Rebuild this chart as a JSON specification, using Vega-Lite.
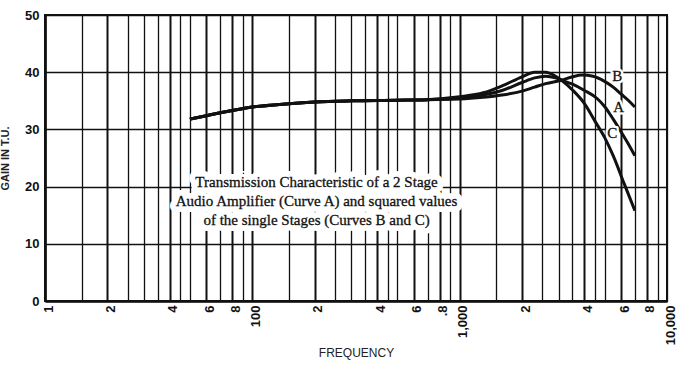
{
  "$schema": "https://vega.github.io/schema/vega-lite/v6.json",
  "width": 622,
  "height": 286,
  "autosize": "none",
  "padding": {"left": 45, "top": 15, "right": 10, "bottom": 65},
  "background": "white",
  "config": {"view": {"stroke": "#111", "strokeWidth": 2}, "font": "Liberation Sans"},
  "datasets": {
    "curves": [
      {"curve": "A", "freq": 50, "gain": 31.8}, {"curve": "A", "freq": 60, "gain": 32.4}, {"curve": "A", "freq": 70, "gain": 32.9}, {"curve": "A", "freq": 80, "gain": 33.3}, {"curve": "A", "freq": 100, "gain": 33.9}, {"curve": "A", "freq": 150, "gain": 34.5}, {"curve": "A", "freq": 200, "gain": 34.8}, {"curve": "A", "freq": 300, "gain": 35.0}, {"curve": "A", "freq": 500, "gain": 35.1}, {"curve": "A", "freq": 700, "gain": 35.2},
      {"curve": "A", "freq": 1000, "gain": 35.5}, {"curve": "A", "freq": 1300, "gain": 36.0}, {"curve": "A", "freq": 1600, "gain": 36.8}, {"curve": "A", "freq": 2000, "gain": 38.2}, {"curve": "A", "freq": 2300, "gain": 39.0}, {"curve": "A", "freq": 2600, "gain": 39.3}, {"curve": "A", "freq": 2900, "gain": 39.0}, {"curve": "A", "freq": 3100, "gain": 38.6}, {"curve": "A", "freq": 3500, "gain": 37.9}, {"curve": "A", "freq": 4000, "gain": 36.8}, {"curve": "A", "freq": 4600, "gain": 35.4}, {"curve": "A", "freq": 5000, "gain": 34.0}, {"curve": "A", "freq": 5500, "gain": 31.8}, {"curve": "A", "freq": 6000, "gain": 29.6}, {"curve": "A", "freq": 6500, "gain": 27.5}, {"curve": "A", "freq": 7000, "gain": 25.4},
      {"curve": "B", "freq": 50, "gain": 31.8}, {"curve": "B", "freq": 60, "gain": 32.4}, {"curve": "B", "freq": 70, "gain": 32.9}, {"curve": "B", "freq": 80, "gain": 33.3}, {"curve": "B", "freq": 100, "gain": 33.9}, {"curve": "B", "freq": 150, "gain": 34.5}, {"curve": "B", "freq": 200, "gain": 34.8}, {"curve": "B", "freq": 300, "gain": 35.0}, {"curve": "B", "freq": 500, "gain": 35.1}, {"curve": "B", "freq": 700, "gain": 35.2},
      {"curve": "B", "freq": 1000, "gain": 35.3}, {"curve": "B", "freq": 1300, "gain": 35.6}, {"curve": "B", "freq": 1600, "gain": 36.0}, {"curve": "B", "freq": 2000, "gain": 36.7}, {"curve": "B", "freq": 2300, "gain": 37.4}, {"curve": "B", "freq": 2600, "gain": 38.0}, {"curve": "B", "freq": 3100, "gain": 38.6}, {"curve": "B", "freq": 3500, "gain": 39.2}, {"curve": "B", "freq": 3900, "gain": 39.5}, {"curve": "B", "freq": 4400, "gain": 39.3}, {"curve": "B", "freq": 5000, "gain": 38.4}, {"curve": "B", "freq": 5500, "gain": 37.4}, {"curve": "B", "freq": 6000, "gain": 36.2}, {"curve": "B", "freq": 6500, "gain": 35.1}, {"curve": "B", "freq": 7000, "gain": 33.9},
      {"curve": "C", "freq": 50, "gain": 31.8}, {"curve": "C", "freq": 60, "gain": 32.4}, {"curve": "C", "freq": 70, "gain": 32.9}, {"curve": "C", "freq": 80, "gain": 33.3}, {"curve": "C", "freq": 100, "gain": 33.9}, {"curve": "C", "freq": 150, "gain": 34.5}, {"curve": "C", "freq": 200, "gain": 34.8}, {"curve": "C", "freq": 300, "gain": 35.0}, {"curve": "C", "freq": 500, "gain": 35.1}, {"curve": "C", "freq": 700, "gain": 35.2},
      {"curve": "C", "freq": 1000, "gain": 35.7}, {"curve": "C", "freq": 1300, "gain": 36.4}, {"curve": "C", "freq": 1600, "gain": 37.6}, {"curve": "C", "freq": 2000, "gain": 39.2}, {"curve": "C", "freq": 2300, "gain": 40.0}, {"curve": "C", "freq": 2600, "gain": 40.0}, {"curve": "C", "freq": 2900, "gain": 39.3}, {"curve": "C", "freq": 3100, "gain": 38.6}, {"curve": "C", "freq": 3500, "gain": 36.9}, {"curve": "C", "freq": 4000, "gain": 34.5}, {"curve": "C", "freq": 4500, "gain": 31.4}, {"curve": "C", "freq": 5000, "gain": 28.6}, {"curve": "C", "freq": 5500, "gain": 25.4}, {"curve": "C", "freq": 6200, "gain": 20.6}, {"curve": "C", "freq": 7000, "gain": 15.8}
    ],
    "notes": [
      {"freq": 204, "gain": 20.8, "text": "Transmission Characteristic of a 2 Stage\nAudio Amplifier (Curve A)  and squared values\nof the single  Stages (Curves B and C)"}
    ],
    "labels": [
      {"freq": 5750, "gain": 39.4, "text": "B"},
      {"freq": 5850, "gain": 34.0, "text": "A"},
      {"freq": 5450, "gain": 29.4, "text": "C"}
    ]
  },
  "layer": [
    {
      "data": {"name": "curves"},
      "mark": {"type": "line", "color": "#111", "strokeWidth": 3, "interpolate": "monotone"},
      "encoding": {
        "x": {
          "field": "freq", "type": "quantitative",
          "scale": {"type": "log", "domain": [10, 10000], "nice": false},
          "axis": {
            "values": [10,15,20,25,30,35,40,45,50,60,70,80,90,100,150,200,250,300,350,400,450,500,600,700,800,900,1000,1500,2000,2500,3000,3500,4000,4500,5000,6000,7000,8000,9000,10000],
            "labelExpr": "datum.value==10?'1':datum.value==100?'100':datum.value==800?'.8':datum.value==1000?'1,000':datum.value==10000?'10,000':indexof([20,40,60,80],datum.value)>=0?format(datum.value/10,'d'):indexof([200,400,600],datum.value)>=0?format(datum.value/100,'d'):indexof([2000,4000,6000,8000],datum.value)>=0?format(datum.value/1000,'d'):''",
            "labelAngle": 270,
            "labelOverlap": false,
            "labelFlush": false,
            "labelBound": false,
            "labelPadding": 4,
            "labelOffset": 3,
            "labelFontSize": 13,
            "labelFontWeight": "bold",
            "labelColor": "#111",
            "ticks": false,
            "domainColor": "#111",
            "domainWidth": 2.5,
            "grid": true,
            "gridColor": "#111",
            "gridOpacity": 1,
            "gridWidth": {"condition": {"test": "indexof([10,20,40,60,80,100,200,400,600,800,1000,2000,4000,6000,8000],datum.value)>=0", "value": 2}, "value": 1.3},
            "title": "FREQUENCY",
            "titleFontSize": 12,
            "titleFontWeight": "normal",
            "titleColor": "#222",
            "titleY": 46,
            "titleBaseline": "top"
          }
        },
        "y": {
          "field": "gain", "type": "quantitative",
          "scale": {"domain": [0, 50], "nice": false},
          "axis": {
            "values": [0,5,10,15,20,25,30,35,40,45,50],
            "labelExpr": "datum.value % 10 == 0 ? datum.label : ''",
            "labelFontSize": 13,
            "labelFontWeight": "bold",
            "labelColor": "#111",
            "labelPadding": 6,
            "ticks": false,
            "domainColor": "#111",
            "domainWidth": 2.5,
            "grid": true,
            "gridColor": "#111",
            "gridOpacity": 1,
            "gridWidth": 1.6,
            "title": "GAIN IN T.U.",
            "titleFontSize": 11,
            "titleFontWeight": "bold",
            "titleColor": "#222",
            "titleX": -40,
            "titleY": 143,
            "titleAngle": -90,
            "titleAlign": "center",
            "titleBaseline": "middle"
          }
        },
        "detail": {"field": "curve"}
      }
    },
    {
      "data": {"name": "notes"},
      "mark": {"type": "text", "font": "Liberation Serif", "fontSize": 15, "lineHeight": 19, "lineBreak": "\n", "align": "center", "baseline": "middle", "fill": "white", "stroke": "white", "strokeWidth": 12, "strokeJoin": "round"},
      "encoding": {"x": {"field": "freq", "type": "quantitative"}, "y": {"field": "gain", "type": "quantitative"}, "text": {"field": "text"}}
    },
    {
      "data": {"name": "notes"},
      "mark": {"type": "text", "font": "Liberation Serif", "fontSize": 15, "lineHeight": 19, "lineBreak": "\n", "align": "center", "baseline": "middle", "fill": "#111", "stroke": "#111", "strokeWidth": 0.3},
      "encoding": {"x": {"field": "freq", "type": "quantitative"}, "y": {"field": "gain", "type": "quantitative"}, "text": {"field": "text"}}
    },
    {
      "data": {"name": "labels"},
      "mark": {"type": "text", "font": "Liberation Serif", "fontSize": 15, "align": "center", "baseline": "middle", "fill": "white", "stroke": "white", "strokeWidth": 5, "strokeJoin": "round"},
      "encoding": {"x": {"field": "freq", "type": "quantitative"}, "y": {"field": "gain", "type": "quantitative"}, "text": {"field": "text"}}
    },
    {
      "data": {"name": "labels"},
      "mark": {"type": "text", "font": "Liberation Serif", "fontSize": 15, "align": "center", "baseline": "middle", "fill": "#111", "stroke": "#111", "strokeWidth": 0.3},
      "encoding": {"x": {"field": "freq", "type": "quantitative"}, "y": {"field": "gain", "type": "quantitative"}, "text": {"field": "text"}}
    }
  ]
}
